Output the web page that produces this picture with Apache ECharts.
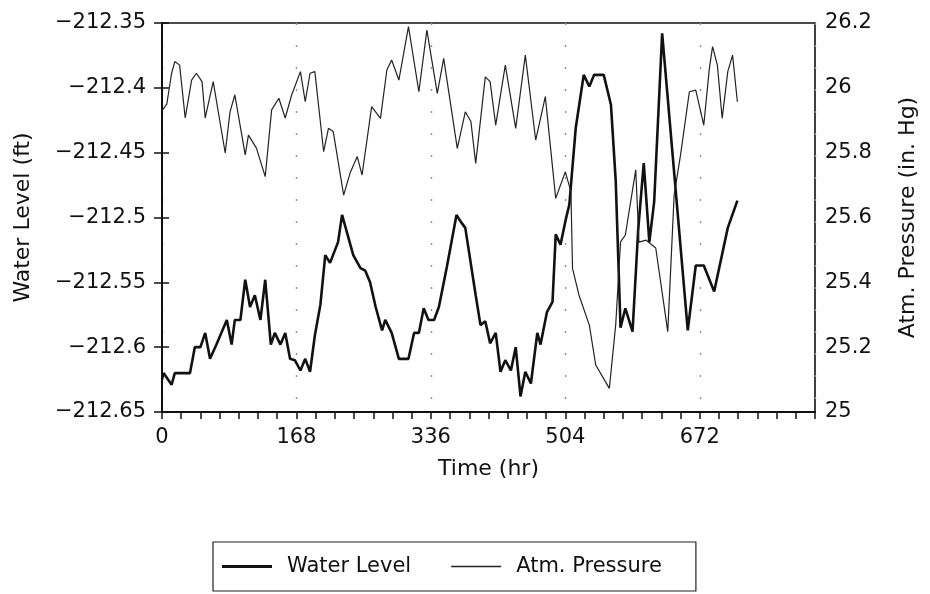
<!DOCTYPE html>
<html>
<head>
<meta charset="utf-8">
<script src="https://cdn.jsdelivr.net/npm/echarts@6/dist/echarts.min.js"></script>
<style>
  html, body { margin: 0; padding: 0; background: #fff; }
  #chart { width: 930px; height: 594px; }
</style>
</head>
<body>
<div id="chart"></div>
<script>
// water level (ft)
const hoursWL = [0, 2, 12, 16, 35, 41, 48, 54, 60, 68, 81, 87, 91, 98, 104, 110, 116, 123, 129, 136, 141, 148, 154, 160, 166, 173, 179, 185, 191, 198, 204, 210, 220, 225, 239, 248, 254, 260, 267, 275, 279, 287, 296, 308, 315, 321, 327, 333, 340, 346, 356, 368, 373, 379, 392, 398, 404, 410, 417, 423, 429, 436, 442, 448, 454, 461, 469, 473, 481, 488, 492, 498, 504, 509, 517, 527, 534, 540, 552, 561, 567, 573, 579, 588, 595, 602, 609, 615, 625, 657, 667, 677, 690, 707, 719]
const waterLevel = [-212.625, -212.62, -212.629, -212.62, -212.62, -212.60, -212.60, -212.589, -212.609, -212.598, -212.579, -212.598, -212.579, -212.579, -212.548, -212.569, -212.56, -212.579, -212.548, -212.598, -212.589, -212.598, -212.589, -212.609, -212.61, -212.618, -212.609, -212.619, -212.591, -212.567, -212.529, -212.535, -212.519, -212.498, -212.529, -212.539, -212.541, -212.55, -212.569, -212.587, -212.579, -212.589, -212.609, -212.609, -212.589, -212.589, -212.57, -212.579, -212.579, -212.569, -212.538, -212.498, -212.503, -212.508, -212.56, -212.583, -212.58, -212.597, -212.589, -212.619, -212.61, -212.618, -212.60, -212.638, -212.619, -212.628, -212.589, -212.598, -212.573, -212.565, -212.513, -212.521, -212.503, -212.49, -212.431, -212.39, -212.399, -212.39, -212.39, -212.413, -212.472, -212.585, -212.57, -212.588, -212.51, -212.458, -212.519, -212.488, -212.358, -212.587, -212.537, -212.537, -212.557, -212.508, -212.487]

// atmospheric pressure (in. Hg)
const hoursAtm = [0, 6, 12, 16, 22, 29, 37, 43, 50, 54, 64, 79, 85, 91, 104, 108, 118, 129, 137, 146, 154, 162, 173, 179, 185, 191, 202, 208, 214, 227, 235, 244, 250, 262, 273, 281, 287, 296, 308, 321, 331, 344, 352, 369, 379, 386, 392, 404, 410, 417, 429, 442, 454, 467, 479, 492, 504, 511, 513, 521, 534, 542, 559, 567, 573, 579, 592, 596, 605, 617, 632, 640, 648, 659, 667, 677, 684, 688, 694, 700, 707, 713, 719]
const atmPressure = [25.93, 25.95, 26.045, 26.081, 26.07, 25.907, 26.024, 26.045, 26.019, 25.907, 26.019, 25.799, 25.926, 25.978, 25.793, 25.854, 25.814, 25.726, 25.932, 25.968, 25.907, 25.978, 26.05, 25.957, 26.045, 26.05, 25.803, 25.875, 25.865, 25.669, 25.737, 25.788, 25.731, 25.942, 25.906, 26.055, 26.086, 26.024, 26.189, 25.988, 26.178, 25.983, 26.091, 25.813, 25.926, 25.896, 25.767, 26.034, 26.019, 25.885, 26.07, 25.875, 26.101, 25.839, 25.973, 25.659, 25.741, 25.68, 25.443, 25.361, 25.268, 25.145, 25.073, 25.27, 25.525, 25.546, 25.747, 25.524, 25.53, 25.506, 25.248, 25.67, 25.793, 25.988, 25.993, 25.885, 26.06, 26.127, 26.07, 25.906, 26.05, 26.101, 25.957]

const xLabels = [0, 168, 336, 504, 672]

const font = 'DejaVu Sans'
const minus = s => String(s).replace('-', '\u2212')
// legend samples: a bar inside a 50x14 box (corner specks keep the box size)
const thickIcon = 'path://M0,0h0.01v0.01h-0.01zM0,5.5h50v3h-50zM50,14h-0.01v-0.01h0.01z'
const thinIcon = 'path://M0,0h0.01v0.01h-0.01zM0,6.3h50v1.4h-50zM50,14h-0.01v-0.01h0.01z'

let mycharts = echarts.init(document.getElementById('chart'))
mycharts.setOption({
  backgroundColor: '#fff',
  animation: false,
  textStyle: { fontFamily: font, color: '#111' },
  grid: {
    left: 162,
    right: 115,
    top: 23,
    bottom: 182,
    show: true,
    borderColor: '#111',
    borderWidth: 1.6
  },
  legend: {
    left: 213,
    top: 542,
    padding: [14, 34, 14, 9],
    itemWidth: 50,
    itemHeight: 14,
    itemGap: 40,
    borderColor: '#222',
    borderWidth: 1.2,
    textStyle: { fontFamily: font, fontSize: 21, color: '#111', padding: [0, 0, 0, 10] },
    data: [
      { name: 'Water Level', icon: thickIcon },
      { name: 'Atm. Pressure', icon: thinIcon }
    ]
  },
  xAxis: [
    {
      type: 'value',
      min: 0,
      max: 816,
      interval: 24,
      name: 'Time (hr)',
      nameLocation: 'middle',
      nameGap: 46,
      nameTextStyle: { fontSize: 22, color: '#111' },
      axisLine: { lineStyle: { color: '#111', width: 2 } },
      axisTick: { length: 7, lineStyle: { color: '#111', width: 1.5 } },
      axisLabel: {
        fontSize: 21,
        color: '#111',
        margin: 15,
        formatter: v => (xLabels.indexOf(v) >= 0 ? String(v) : '')
      },
      splitLine: { show: false }
    },
    {
      // dotted guides every 168 hr
      type: 'value',
      min: 0,
      max: 816,
      interval: 168,
      position: 'top',
      axisLine: { show: false },
      axisTick: { show: false },
      axisLabel: { show: false },
      splitLine: { show: true, lineStyle: { color: '#8f8f8f', width: 1.4, type: [2, 20] } }
    }
  ],
  yAxis: [
    {
      type: 'value',
      min: -212.65,
      max: -212.35,
      interval: 0.05,
      name: 'Water Level (ft)',
      nameLocation: 'middle',
      nameRotate: 90,
      nameGap: 128,
      nameTextStyle: { fontSize: 22, color: '#111' },
      axisLine: { show: true, lineStyle: { color: '#111', width: 2 } },
      axisTick: { show: true, length: 8, lineStyle: { color: '#111', width: 1.5 } },
      axisLabel: {
        fontSize: 21,
        color: '#111',
        margin: 16,
        formatter: v => minus(Number(v.toFixed(2)))
      },
      splitLine: { show: false }
    },
    {
      type: 'value',
      min: 25,
      max: 26.2,
      interval: 0.2,
      name: 'Atm. Pressure (in. Hg)',
      nameLocation: 'middle',
      nameRotate: 90,
      nameGap: 82,
      nameTextStyle: { fontSize: 22, color: '#111' },
      axisLine: { show: true, lineStyle: { color: '#111', width: 1.5 } },
      axisTick: { show: true, length: 7, lineStyle: { color: '#111', width: 1.5 } },
      axisLabel: {
        fontSize: 21,
        color: '#111',
        margin: 10,
        formatter: v => String(Number(v.toFixed(1)))
      },
      splitLine: { show: false }
    }
  ],
  series: [
    {
      name: 'Water Level',
      type: 'line',
      yAxisIndex: 0,
      showSymbol: false,
      symbol: 'none',
      lineStyle: { color: '#111', width: 2.6 },
      itemStyle: { color: '#111' },
      data: hoursWL.map((h, i) => [h, waterLevel[i]])
    },
    {
      name: 'Atm. Pressure',
      type: 'line',
      yAxisIndex: 1,
      showSymbol: false,
      symbol: 'none',
      lineStyle: { color: '#222', width: 1.2 },
      itemStyle: { color: '#222' },
      data: hoursAtm.map((h, i) => [h, atmPressure[i]])
    }
  ]
})
</script>
</body>
</html>
